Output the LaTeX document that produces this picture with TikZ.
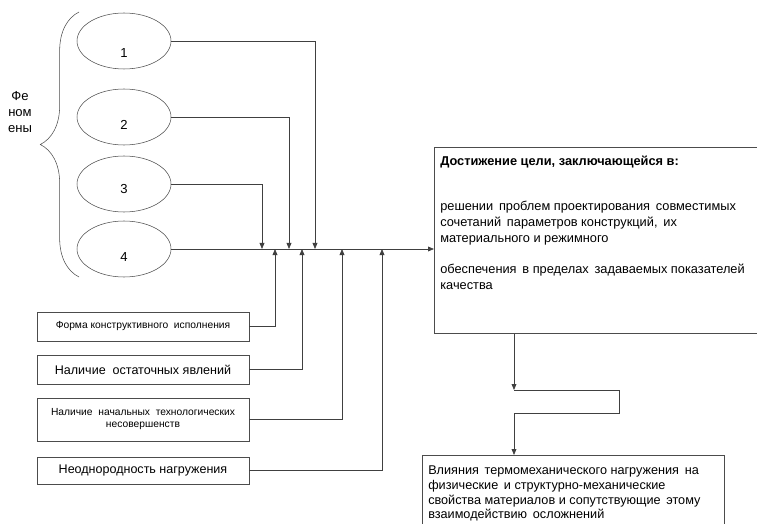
\documentclass[tikz,border=0pt]{standalone}
\usepackage{fontspec}
\setmainfont{Liberation Sans}
\usetikzlibrary{shapes.geometric,arrows.meta,decorations.pathreplacing}
\tikzset{
  >={Triangle[length=4.5pt,width=3.6pt]},
  phen/.style={ellipse,draw=black!70,minimum width=70.5pt,minimum height=42pt},
  factor/.style={draw=black!70,minimum width=159pt,align=center,inner sep=1pt},
  conn/.style={draw=black!75,line width=0.6pt},
  smalltxt/.style={font=\fontsize{7.7}{9}\selectfont},
  midtxt/.style={font=\fontsize{9.4}{11}\selectfont},
}
\newcommand{\wgap}{\hspace{0.45em}}
\begin{document}
\begin{tikzpicture}[x=0.75pt,y=-0.75pt,font=\fontsize{9.8}{12}\selectfont]
\useasboundingbox (0,0) rectangle (757,524);
\clip (0,0) rectangle (757,524);

% Phenomena
\node[phen,label={[yshift=-9pt]center:1}] (e1) at (124,41) {};
\node[phen,label={[yshift=-6pt]center:2}] (e2) at (124,117) {};
\node[phen,label={[yshift=-4pt]center:3}] (e3) at (124,184) {};
\node[phen,label={[yshift=-6pt]center:4}] (e4) at (124,249) {};
\draw[decorate,decoration={brace,amplitude=29pt},draw=black!70] (79,277) -- (79,12);
\node[align=center] (phenlbl) at (20,112) {Фе\\ном\\ены};

% Factors
\node[factor,smalltxt,minimum height=21.75pt] (f1) at (143,326.5) {Форма конструктивного\ \ исполнения};
\node[factor,midtxt,minimum height=21.75pt] (f2) at (143,369.5) {Наличие\ \ остаточных явлений};
\node[factor,smalltxt,minimum height=32.25pt] (f3) at (143,419.5) {Наличие\ \ начальных\ \ технологических\\несовершенств};
\node[factor,midtxt,minimum height=20.25pt] (f4) at (143,470.5) {Неоднородность нагружения};

% Goal
\node[draw=black!70,minimum width=247.5pt,minimum height=139.5pt,anchor=north west] (goal) at (434,147) {};
\node[anchor=north west,align=left,inner sep=0pt,font=\fontsize{9.6}{12}\selectfont] (goaltxt) at (440,155.5) {\textbf{Достижение цели, заключающейся в:}\\[21.75pt]
решении\wgap проблем проектирования\wgap совместимых\\
сочетаний\wgap параметров конструкций,\wgap их\\
материального и режимного\\[11.25pt]
обеспечения\wgap в пределах\wgap задаваемых показателей\\
качества};

% Result
\node[draw=black!70,minimum width=226.5pt,minimum height=60pt,anchor=north west] (res) at (422,455) {};
\node[anchor=north west,align=left,inner sep=0pt,font=\fontsize{9.5}{11}\selectfont] (restxt) at (428,466) {Влияния\wgap термомеханического нагружения\wgap на\\
физические\wgap и структурно-механические\\
свойства материалов и сопутствующие\wgap этому\\
взаимодействию\wgap осложнений};

% Junctions on the main line
\coordinate (d1) at (315,249);
\coordinate (d2) at (289,249);
\coordinate (d3) at (262,249);
\coordinate (u1) at (275,249);
\coordinate (u2) at (302,249);
\coordinate (u3) at (342,249);
\coordinate (u4) at (382,249);
\coordinate (j1) at (514,390);
\coordinate (j2) at (514,413);

% Connectors
\draw[conn,->] (e1.east) -| (d1);
\draw[conn,->] (e2.east) -| (d2);
\draw[conn,->] (e3.east) -| (d3);
\draw[conn,->] (e4.east) -- (e4.east -| goal.west);
\draw[conn,->] (f1.east) -| (u1);
\draw[conn,->] (f2.east) -| (u2);
\draw[conn,->] (f3.east) -| (u3);
\draw[conn,->] (f4.east) -| (u4);
\draw[conn,->] (goal.south -| j1) -- (j1);
\draw[conn] (j1) -- ++(105,0) -- ++(0,23) -- (j2);
\draw[conn,->] (j2) -- (j2 |- res.north);

\end{tikzpicture}
\end{document}
